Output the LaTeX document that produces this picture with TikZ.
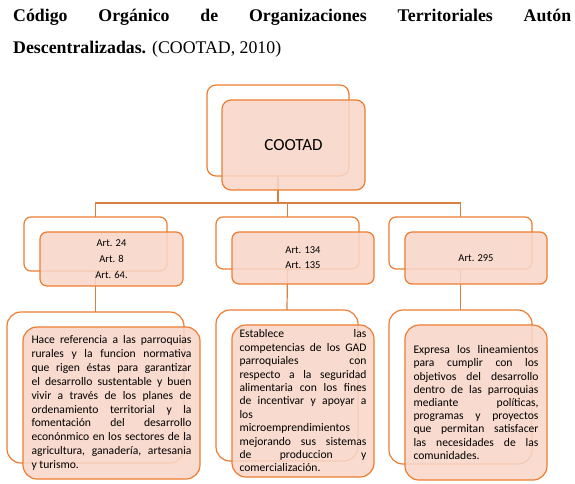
\documentclass[tikz,border=0pt]{standalone}
\usepackage{fontspec}
\setmainfont{Liberation Serif}
\newfontfamily\boxfont{Carlito}
\definecolor{boxorange}{RGB}{237,125,49}
\definecolor{lineorange}{RGB}{214,128,66}
\definecolor{frontfill}{RGB}{248,214,200}
\begin{document}
\begin{tikzpicture}[x=1pt,y=-1pt,
  backbox/.style={draw=boxorange, line width=1.2pt, fill=white, rounded corners=#1,
    inner sep=0pt, outer sep=0pt, anchor=north west},
  frontbox/.style={draw=boxorange, line width=1.2pt, fill=frontfill, fill opacity=0.88,
    text opacity=1, rounded corners=#1, inner sep=0pt, outer sep=0pt, anchor=north west,
    align=left},
  conn/.style={draw=lineorange, line width=1.2pt}
]
\useasboundingbox (0,0) rectangle (575,483);

% title
\node[anchor=base west, inner sep=0pt, font=\fontsize{17.8}{20}\selectfont] (t1) at (13,21)
  {\makebox[558pt][s]{\bfseries Código Orgánico de Organizaciones Territoriales Autón}};
\node[anchor=base west, inner sep=0pt, font=\fontsize{17.8}{20}\selectfont] (t2) at (13,53)
  {\textbf{Descentralizadas.} (COOTAD, 2010)};

% level 1
\node[backbox=9pt, minimum width=142pt, minimum height=91pt] (c1b) at (207,85) {};
% level 2 back
\node[backbox=7pt, minimum width=143pt, minimum height=54pt] (l2Lb) at (24,217) {};
\node[backbox=7pt, minimum width=143pt, minimum height=52pt] (l2Mb) at (216,217) {};
\node[backbox=7pt, minimum width=143pt, minimum height=52pt] (l2Rb) at (389,217) {};
% level 3 back
\node[backbox=14pt, minimum width=177pt, minimum height=151pt] (l3Lb) at (7,312) {};
\node[backbox=14pt, minimum width=142pt, minimum height=151pt] (l3Mb) at (216,310) {};
\node[backbox=14pt, minimum width=143pt, minimum height=154pt] (l3Rb) at (389,310) {};

% connectors
\coordinate (bar) at (0,203);
\draw[conn] (c1b.south) -- (c1b.south |- bar);
\draw[conn] (l2Lb.north) -- (l2Lb.north |- bar) -- (l2Rb.north |- bar) -- (l2Rb.north);
\draw[conn] (l2Mb.north |- bar) -- (l2Mb.north);
\draw[conn] (l2Lb.south) -- (l3Lb.north);
\draw[conn] (l2Mb.south) -- (l3Mb.north);
\draw[conn] (l2Rb.south) -- (l3Rb.north);

% level 1 front
\node[frontbox=9pt, minimum width=143pt, minimum height=90pt, align=center,
  font=\boxfont\fontsize{17}{20}\selectfont] (c1f) at (222,100) {COOTAD};

% level 2 front
\node[frontbox=7pt, minimum width=143pt, minimum height=54pt, align=center,
  font=\boxfont\fontsize{10.5}{16}\selectfont] (l2Lf) at (40,232)
  {Art. 24\\Art. 8\\Art. 64.};
\node[frontbox=7pt, minimum width=142pt, minimum height=52pt, align=center,
  font=\boxfont\fontsize{10.5}{15}\selectfont] (l2Mf) at (232,232)
  {Art. 134\\Art. 135};
\node[frontbox=7pt, minimum width=142pt, minimum height=52pt, align=center,
  font=\boxfont\fontsize{10.5}{15}\selectfont] (l2Rf) at (405,232)
  {Art. 295};

% level 3 front
\node[frontbox=14pt, minimum width=177pt, minimum height=152pt,
  font=\boxfont\fontsize{11.6}{13.9}\selectfont] (l3Lf) at (23,327)
  {\makebox[160pt][s]{Hace referencia a las parroquias}\\
   \makebox[160pt][s]{rurales y la funcion normativa}\\
   \makebox[160pt][s]{que rigen éstas para garantizar}\\
   \makebox[160pt][s]{el desarrollo sustentable y buen}\\
   \makebox[160pt][s]{vivir a través de los planes de}\\
   \makebox[160pt][s]{ordenamiento territorial y la}\\
   \makebox[160pt][s]{fomentación del desarrollo}\\
   \makebox[160pt][s]{econónmico en los sectores de la}\\
   \makebox[160pt][s]{agricultura, ganadería, artesania}\\
   \makebox[160pt][l]{y turismo.}};
\node[frontbox=14pt, minimum width=142pt, minimum height=152pt,
  font=\boxfont\fontsize{11.6}{13.4}\selectfont] (l3Mf) at (232,325)
  {\makebox[127pt][s]{Establece las}\\
   \makebox[127pt][s]{competencias de los GAD}\\
   \makebox[127pt][s]{parroquiales con}\\
   \makebox[127pt][s]{respecto a la seguridad}\\
   \makebox[127pt][s]{alimentaria con los fines}\\
   \makebox[127pt][s]{de incentivar y apoyar a}\\
   \makebox[127pt][l]{los}\\
   \makebox[127pt][l]{microemprendimientos}\\
   \makebox[127pt][s]{mejorando sus sistemas}\\
   \makebox[127pt][s]{de produccion y}\\
   \makebox[127pt][l]{comercialización.}};
\node[frontbox=14pt, minimum width=142pt, minimum height=155pt,
  font=\boxfont\fontsize{11.6}{13.2}\selectfont] (l3Rf) at (405,325)
  {\makebox[125pt][s]{Expresa los lineamientos}\\
   \makebox[125pt][s]{para cumplir con los}\\
   \makebox[125pt][s]{objetivos del desarrollo}\\
   \makebox[125pt][s]{dentro de las parroquias}\\
   \makebox[125pt][s]{mediante políticas,}\\
   \makebox[125pt][s]{programas y proyectos}\\
   \makebox[125pt][s]{que permitan satisfacer}\\
   \makebox[125pt][s]{las necesidades de las}\\
   \makebox[125pt][l]{comunidades.}};
\end{tikzpicture}
\end{document}
